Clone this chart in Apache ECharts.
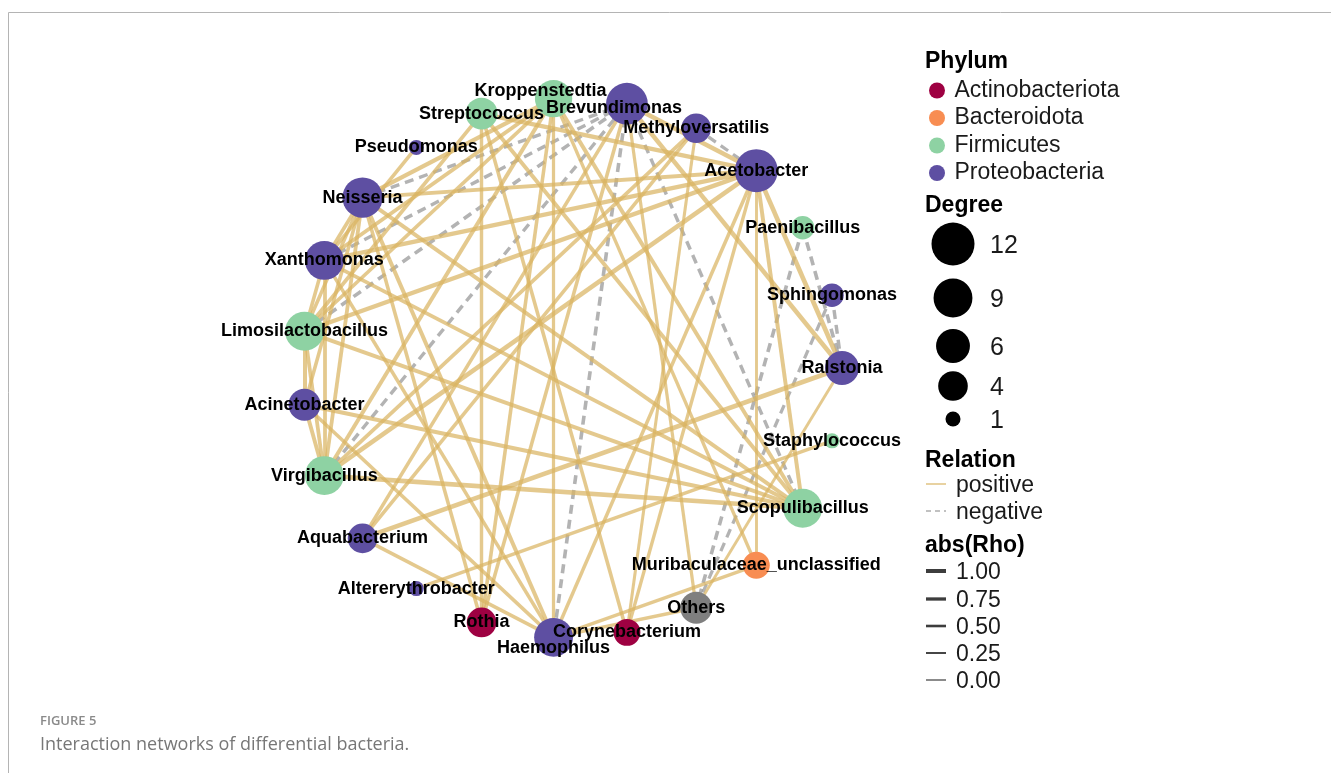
<!DOCTYPE html>
<html>
<head>
<meta charset="utf-8">
<script src="https://cdn.jsdelivr.net/npm/echarts@6/dist/echarts.min.js"></script>
<style>
  html, body { margin: 0; padding: 0; background: #ffffff; }
  #chart { width: 1331px; height: 773px; }
</style>
</head>
<body>
<div id="chart"></div>
<script>
// Genera in ring order (counter-clockwise, starting at 3 o'clock)
const genera = [
  'Ralstonia', 'Sphingomonas', 'Paenibacillus', 'Acetobacter', 'Methyloversatilis',
  'Brevundimonas', 'Kroppenstedtia', 'Streptococcus', 'Pseudomonas', 'Neisseria',
  'Xanthomonas', 'Limosilactobacillus', 'Acinetobacter', 'Virgibacillus', 'Aquabacterium',
  'Altererythrobacter', 'Rothia', 'Haemophilus', 'Corynebacterium', 'Others',
  'Muribaculaceae_unclassified', 'Scopulibacillus', 'Staphylococcus'
];
const generaPhylum = [
  'Proteobacteria', 'Proteobacteria', 'Firmicutes', 'Proteobacteria', 'Proteobacteria',
  'Proteobacteria', 'Firmicutes', 'Firmicutes', 'Proteobacteria', 'Proteobacteria',
  'Proteobacteria', 'Firmicutes', 'Proteobacteria', 'Firmicutes', 'Proteobacteria',
  'Proteobacteria', 'Actinobacteriota', 'Proteobacteria', 'Actinobacteriota', 'NA',
  'Bacteroidota', 'Firmicutes', 'Firmicutes'
];
const phyla = ['Actinobacteriota', 'Bacteroidota', 'Firmicutes', 'Proteobacteria'];

// Spearman correlations between genera
const linkSource = [
  'Neisseria', 'Xanthomonas', 'Limosilactobacillus', 'Virgibacillus', 'Brevundimonas',
  'Brevundimonas', 'Paenibacillus', 'Paenibacillus', 'Sphingomonas', 'Sphingomonas',
  'Methyloversatilis',
  'Acetobacter', 'Acetobacter', 'Acetobacter', 'Acetobacter', 'Acetobacter',
  'Acetobacter', 'Acetobacter', 'Acetobacter', 'Acetobacter', 'Acetobacter',
  'Acetobacter',
  'Brevundimonas', 'Brevundimonas', 'Brevundimonas', 'Brevundimonas',
  'Methyloversatilis', 'Methyloversatilis', 'Methyloversatilis',
  'Kroppenstedtia', 'Kroppenstedtia', 'Kroppenstedtia', 'Kroppenstedtia', 'Kroppenstedtia',
  'Kroppenstedtia', 'Kroppenstedtia', 'Kroppenstedtia',
  'Streptococcus', 'Streptococcus', 'Streptococcus', 'Streptococcus',
  'Pseudomonas',
  'Neisseria', 'Neisseria', 'Neisseria', 'Neisseria', 'Neisseria', 'Neisseria', 'Neisseria',
  'Xanthomonas', 'Xanthomonas', 'Xanthomonas', 'Xanthomonas',
  'Limosilactobacillus', 'Limosilactobacillus', 'Limosilactobacillus',
  'Acinetobacter', 'Acinetobacter', 'Acinetobacter',
  'Virgibacillus', 'Aquabacterium', 'Aquabacterium',
  'Haemophilus', 'Haemophilus', 'Ralstonia', 'Staphylococcus'
];
const linkTarget = [
  'Brevundimonas', 'Brevundimonas', 'Brevundimonas', 'Brevundimonas', 'Haemophilus',
  'Scopulibacillus', 'Others', 'Ralstonia', 'Ralstonia', 'Others',
  'Acetobacter',
  'Neisseria', 'Xanthomonas', 'Limosilactobacillus', 'Virgibacillus', 'Haemophilus',
  'Corynebacterium', 'Muribaculaceae_unclassified', 'Scopulibacillus', 'Ralstonia', 'Brevundimonas',
  'Streptococcus',
  'Ralstonia', 'Aquabacterium', 'Rothia', 'Others',
  'Corynebacterium', 'Aquabacterium', 'Virgibacillus',
  'Haemophilus', 'Scopulibacillus', 'Xanthomonas', 'Virgibacillus', 'Neisseria',
  'Limosilactobacillus', 'Muribaculaceae_unclassified', 'Rothia',
  'Rothia', 'Corynebacterium', 'Limosilactobacillus', 'Scopulibacillus',
  'Xanthomonas',
  'Scopulibacillus', 'Xanthomonas', 'Limosilactobacillus', 'Virgibacillus', 'Haemophilus', 'Rothia', 'Acinetobacter',
  'Scopulibacillus', 'Limosilactobacillus', 'Virgibacillus', 'Haemophilus',
  'Scopulibacillus', 'Acinetobacter', 'Virgibacillus',
  'Virgibacillus', 'Scopulibacillus', 'Haemophilus',
  'Scopulibacillus', 'Ralstonia', 'Haemophilus',
  'Muribaculaceae_unclassified', 'Others', 'Others', 'Altererythrobacter'
];
const linkRho = [
  -0.55, -0.55, -0.60, -0.55, -0.60,
  -0.55, -0.60, -0.60, -0.55, -0.50,
  -0.50,
  0.70, 0.80, 0.85, 0.90, 0.60,
  0.55, 0.40, 0.70, 0.90, 0.85,
  0.80,
  0.85, 0.60, 0.60, 0.50,
  0.45, 0.60, 0.65,
  0.50, 0.70, 0.65, 0.70, 0.80,
  0.60, 0.55, 0.60,
  0.55, 0.60, 0.65, 0.70,
  0.60,
  0.70, 0.65, 0.60, 0.65, 0.70, 0.60, 0.60,
  0.65, 0.60, 0.65, 0.60,
  0.70, 0.70, 0.65,
  0.70, 0.75, 0.60,
  0.90, 0.90, 0.60,
  0.55, 0.55, 0.40, 0.60
];

// Legend breaks
const degreeBreaks = [12, 9, 6, 4, 1];
const rhoBreaks = [1.00, 0.75, 0.50, 0.25, 0.00];

// ---- styling ----
const phylumColor = {
  Actinobacteriota: '#9E0142',
  Bacteroidota: '#F88D52',
  Firmicutes: '#8ED2A3',
  Proteobacteria: '#5E4FA2',
  NA: '#7F7F7F'
};
const FONT = '"Liberation Sans", Arial, Helvetica, sans-serif';
const POS_COLOR = '#D9B463';
const NEG_COLOR = '#999999';
// area-style size scale: degree 1 -> 15px, degree 12 -> 43px
const sizeOf = d => 15 + 28 * Math.sqrt(Math.max(d - 1, 0) / 11);
const widthOf = r => 1.5 + 3.5 * Math.abs(r);
// label nudges for crowded names
const labelNudge = {
  Kroppenstedtia: [-13, -8],
  Brevundimonas: [-13, 4],
  Haemophilus: [0, 11]
};

const degree = {};
genera.forEach(g => { degree[g] = 0; });
linkSource.forEach((s, i) => { degree[s] += 1; degree[linkTarget[i]] += 1; });

const categories = phyla.concat(['NA']).map(p => ({ name: p, itemStyle: { color: phylumColor[p] } }));

const nodes = genera.map((g, i) => ({
  name: g,
  value: [1, i],
  category: phyla.indexOf(generaPhylum[i]) >= 0 ? phyla.indexOf(generaPhylum[i]) : phyla.length,
  symbolSize: sizeOf(degree[g]),
  label: { offset: labelNudge[g] || [0, 0] }
}));

const links = linkSource.map((s, i) => ({
  source: s,
  target: linkTarget[i],
  lineStyle: {
    color: linkRho[i] > 0 ? POS_COLOR : NEG_COLOR,
    opacity: linkRho[i] > 0 ? 0.72 : 0.75,
    width: widthOf(linkRho[i]),
    type: linkRho[i] > 0 ? 'solid' : [9, 6]
  }
}));

// ---- legend graphics (Degree, Relation, abs(Rho)) ----
const graphics = [];
const title = (text, y) => graphics.push({
  type: 'text', x: 925, y: y + 1,
  style: { text, font: 'bold 23px ' + FONT, fill: '#000', verticalAlign: 'middle' }
});
const itemText = (text, x, y, size) => graphics.push({
  type: 'text', x, y: y + 2,
  style: { text, font: (size || 23) + 'px ' + FONT, fill: '#1a1a1a', verticalAlign: 'middle' }
});

title('Phylum', 61);
title('Degree', 205);
const degreeY = [244, 298, 346, 386, 419];
degreeBreaks.forEach((d, i) => {
  graphics.push({ type: 'circle', shape: { cx: 953, cy: degreeY[i], r: sizeOf(d) / 2 }, style: { fill: '#000' } });
  itemText(String(d), 990, degreeY[i], 25);
});

title('Relation', 460);
graphics.push({ type: 'line', shape: { x1: 926, y1: 484, x2: 946, y2: 484 },
  style: { stroke: POS_COLOR, opacity: 0.8, lineWidth: 1.5 } });
itemText('positive', 956, 484);
graphics.push({ type: 'line', shape: { x1: 926, y1: 511, x2: 946, y2: 511 },
  style: { stroke: NEG_COLOR, opacity: 0.8, lineWidth: 1.5, lineDash: [5, 4] } });
itemText('negative', 956, 511);

title('abs(Rho)', 545);
const rhoY = [571, 599, 626, 653, 680];
rhoBreaks.forEach((r, i) => {
  graphics.push({ type: 'line', shape: { x1: 926, y1: rhoY[i], x2: 946, y2: rhoY[i] },
    style: { stroke: '#3d3d3d', lineWidth: widthOf(r) * 0.8 } });
  itemText(r.toFixed(2), 956, rhoY[i]);
});

// frame and caption
graphics.push({ type: 'line', shape: { x1: 8.5, y1: 12.5, x2: 1331, y2: 12.5 }, style: { stroke: '#b4b4b4', lineWidth: 1 } });
graphics.push({ type: 'line', shape: { x1: 8.5, y1: 12.5, x2: 8.5, y2: 773 }, style: { stroke: '#b4b4b4', lineWidth: 1 } });
graphics.push({ type: 'text', x: 40, y: 721,
  style: { text: 'FIGURE 5', font: '600 13px "Open Sans", "Noto Sans", sans-serif', fill: '#8a8a8a', verticalAlign: 'middle' } });
graphics.push({ type: 'text', x: 40, y: 745,
  style: { text: 'Interaction networks of differential bacteria.', font: '18px "Open Sans", "Noto Sans", sans-serif', fill: '#777777', verticalAlign: 'middle' } });

const chart = echarts.init(document.getElementById('chart'), null, { renderer: 'canvas' });
chart.setOption({
  animation: false,
  backgroundColor: '#ffffff',
  polar: { center: [572, 368], radius: 270 },
  angleAxis: {
    type: 'value', min: 0, max: genera.length, startAngle: 0, clockwise: false,
    show: false, axisLine: { show: false }, axisTick: { show: false }, axisLabel: { show: false }, splitLine: { show: false }
  },
  radiusAxis: {
    type: 'value', min: 0, max: 1,
    show: false, axisLine: { show: false }, axisTick: { show: false }, axisLabel: { show: false }, splitLine: { show: false }
  },
  legend: {
    data: phyla,
    orient: 'vertical',
    left: 929,
    top: 79,
    padding: 0,
    icon: 'circle',
    itemWidth: 25,
    itemHeight: 16,
    itemGap: 4.5,
    selectedMode: false,
    textStyle: { fontFamily: FONT, fontSize: 23, lineHeight: 23, color: '#1a1a1a' }
  },
  graphic: graphics,
  series: [{
    type: 'graph',
    coordinateSystem: 'polar',
    polarIndex: 0,
    categories: categories,
    data: nodes,
    links: links,
    symbol: 'circle',
    itemStyle: { borderWidth: 0 },
    label: {
      show: true,
      position: 'inside',
      color: '#000',
      fontFamily: FONT,
      fontWeight: 'bold',
      fontSize: 18
    },
    lineStyle: { curveness: 0 },
    emphasis: { disabled: true },
    silent: true
  }]
});
</script>
</body>
</html>
